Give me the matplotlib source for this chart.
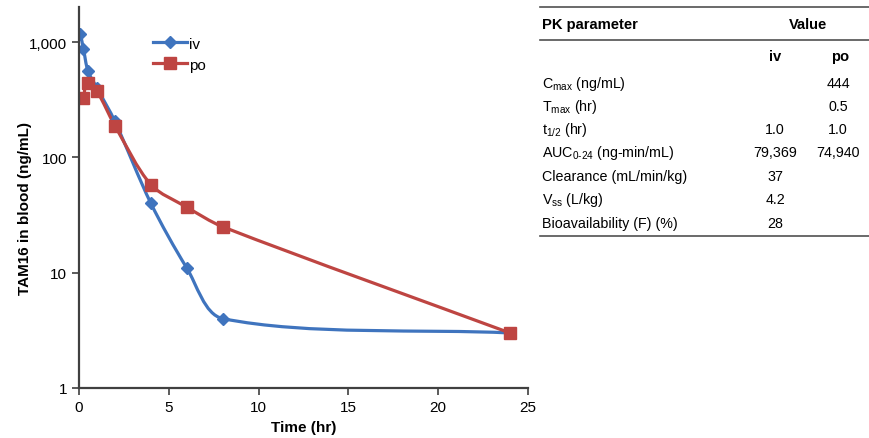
import numpy as np
import matplotlib
matplotlib.use('Agg')
import matplotlib.pyplot as plt
from matplotlib.path import Path
from matplotlib.patches import PathPatch
from matplotlib.lines import Line2D
from matplotlib.ticker import FixedLocator, FuncFormatter, NullLocator

plt.rcParams['font.family'] = ['Liberation Sans', 'DejaVu Sans']
plt.rcParams['mathtext.fontset'] = 'custom'
plt.rcParams['mathtext.rm'] = 'Liberation Sans'

# concentration-time data (ng/mL)
t_iv = [0.083, 0.25, 0.5, 1, 2, 4, 6, 8, 24]
c_iv = [1170, 870, 560, 400, 205, 40, 11, 4, 3]
t_po = [0.25, 0.5, 1, 2, 4, 6, 8, 24]
c_po = [330, 444, 375, 188, 58, 37, 25, 3]

# PK parameter table
params = ['C$_{\\mathregular{max}}$ (ng/mL)', 'T$_{\\mathregular{max}}$ (hr)',
          't$_{\\mathregular{1/2}}$ (hr)', 'AUC$_{\\mathregular{0\u201024}}$ (ng-min/mL)',
          'Clearance (mL/min/kg)', 'V$_{\\mathregular{ss}}$ (L/kg)',
          'Bioavailability (F) (%)']
val_iv = ['', '', '1.0', '79,369', '37', '4.2', '28']
val_po = ['444', '0.5', '1.0', '74,940', '', '', '']

c_blue = '#3F74BE'
c_red = '#BE4542'

# pixel scale of the plot (per hour / per decade), used only to shape the smoothing
SX, SY = 18.0, 115.3


# smoothed line like a spreadsheet chart: cubic Bezier, tangents scaled to segment length
def smooth_path(t, c, k=0.3):
    p = np.column_stack([np.array(t, float) * SX, np.log10(np.array(c, float)) * SY])
    n = len(p)
    tang = []
    for i in range(n):
        d = p[min(i + 1, n - 1)] - p[max(i - 1, 0)]
        tang.append(d / np.hypot(*d))
    verts = [p[0]]
    codes = [Path.MOVETO]
    for i in range(n - 1):
        L = np.hypot(*(p[i + 1] - p[i]))
        verts += [p[i] + tang[i] * L * k, p[i + 1] - tang[i + 1] * L * k, p[i + 1]]
        codes += [Path.CURVE4] * 3
    verts = [(vx / SX, 10 ** (vy / SY)) for vx, vy in verts]
    return Path(verts, codes)


fig = plt.figure(figsize=(8.69, 4.39), dpi=100)
ax = fig.add_axes([79 / 869, 1 - 389 / 439, 449 / 869, 381 / 439])
ax.set_yscale('log')
ax.set_xlim(0, 25)
ax.set_ylim(1, 10 ** (3 + 35 / 115.3))

for t, c, col, mk, ms, lab in [(t_iv, c_iv, c_blue, 'D', 6.5, 'iv'),
                               (t_po, c_po, c_red, 's', 8.5, 'po')]:
    ax.add_patch(PathPatch(smooth_path(t, c), facecolor='none', edgecolor=col,
                           lw=2.3, capstyle='round', joinstyle='round'))
    ax.plot(t, c, ls='none', marker=mk, ms=ms, color=col)
    ax.plot([], [], color=col, lw=2.3, marker=mk, ms=ms, label=lab)

leg = ax.legend(loc='upper left', bbox_to_anchor=(0.165, 0.922), frameon=False,
                fontsize=11, handlelength=2.2, handletextpad=0.15,
                borderaxespad=0, borderpad=0, labelspacing=0.45)

ax.yaxis.set_major_locator(FixedLocator([1, 10, 100, 1000]))
ax.yaxis.set_minor_locator(NullLocator())
ax.yaxis.set_major_formatter(FuncFormatter(lambda v, p: f'{v:,.0f}'))
ax.set_xticks([0, 5, 10, 15, 20, 25])
ax.tick_params(labelsize=11, length=5, width=1.2, color='#404040', direction='out')
for s in ['top', 'right']:
    ax.spines[s].set_visible(False)
for s in ['left', 'bottom']:
    ax.spines[s].set_linewidth(1.6)
    ax.spines[s].set_color('#404040')
ax.set_xlabel('Time (hr)', fontsize=11, fontweight='bold')
ax.xaxis.set_label_coords(0.5, -0.085)
ax.set_ylabel('TAM16 in blood (ng/mL)', fontsize=11, fontweight='bold')
ax.yaxis.set_label_coords(-0.105, 0.475)

# table on the right
W, H = 869, 439


def fx(px):
    return px / W


def fy(py):
    return 1 - py / H


line_kw = dict(color='#505050', lw=1.2)
for py in [8, 41, 237]:
    fig.add_artist(Line2D([fx(540), fx(869)], [fy(py), fy(py)], **line_kw))

fs = 10.3
fb = 10.6
fig.text(fx(542), fy(25), 'PK parameter', fontsize=fb, fontweight='bold', va='center')
fig.text(fx(808), fy(25), 'Value', fontsize=fb, fontweight='bold', va='center', ha='center')
fig.text(fx(775), fy(57), 'iv', fontsize=fb, fontweight='bold', va='center', ha='center')
fig.text(fx(840), fy(57), 'po', fontsize=fb, fontweight='bold', va='center', ha='center')
row_y = [84, 107, 130, 153, 177, 200, 224]
for py, name, a, b in zip(row_y, params, val_iv, val_po):
    fig.text(fx(542), fy(py), name, fontsize=fs, va='center')
    fig.text(fx(775), fy(py), a, fontsize=fs, va='center', ha='center')
    fig.text(fx(838), fy(py), b, fontsize=fs, va='center', ha='center')

fig.savefig('out.png', dpi=100)
